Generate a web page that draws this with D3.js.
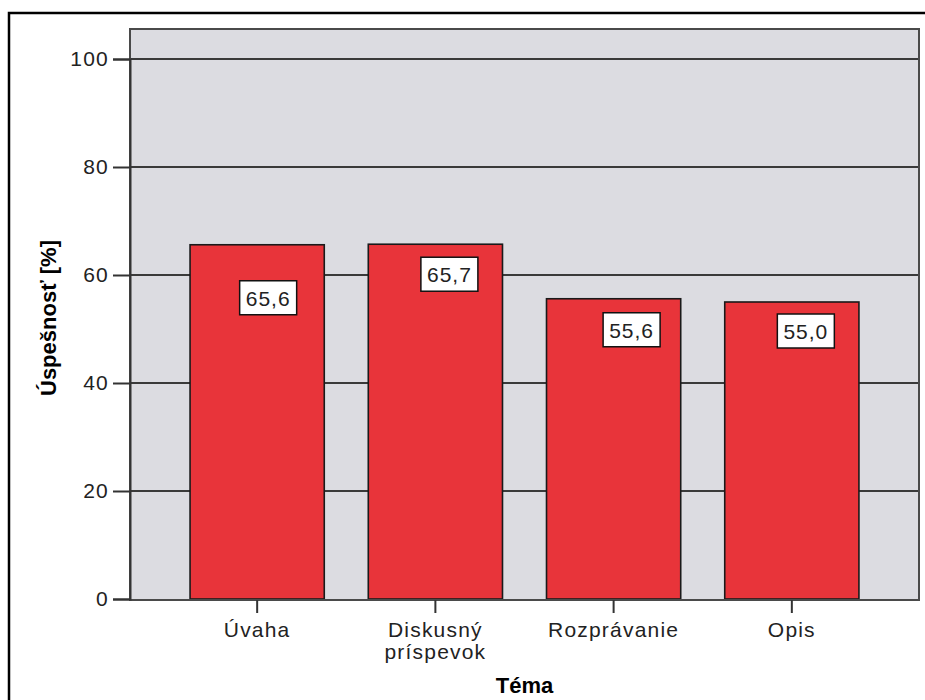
<!DOCTYPE html>
<html>
<head>
<meta charset="utf-8">
<script src="https://cdn.jsdelivr.net/npm/d3@7"></script>
<style>
  body { margin: 0; background: #fff; }
  svg text { font-family: "Liberation Sans", Arial, sans-serif; }
</style>
</head>
<body>
<svg id="chart"></svg>
<script>
// Data
const categories = ["Úvaha", "Diskusný príspevok", "Rozprávanie", "Opis"];
const categoryLines = [["Úvaha"], ["Diskusný", "príspevok"], ["Rozprávanie"], ["Opis"]];
const values = [65.6, 65.7, 55.6, 55.0];
const valueLabels = ["65,6", "65,7", "55,6", "55,0"];
const yTicks = [0, 20, 40, 60, 80, 100];

// label nudges (layout only) - SPSS shifts labels to avoid overlap
const labelNudge = [[11, 53], [14, 30], [18, 31], [14, 29]];

const width = 925, height = 700;
const plot = { left: 130, right: 919, top: 29, bottom: 600 };

const svg = d3.select("#chart")
    .attr("width", width)
    .attr("height", height);

// outer frame (right/bottom run off the picture)
svg.append("path")
    .attr("d", `M9,${height + 5} V13 H${width + 5}`)
    .attr("fill", "none")
    .attr("stroke", "#000")
    .attr("stroke-width", 2.5);

const x = d3.scaleBand()
    .domain(categories)
    .range([plot.left, plot.right])
    .paddingInner(0.247)
    .paddingOuter(0.337);

const y = d3.scaleLinear()
    .domain([0, 100])
    .range([599, 59]);

// plot background
svg.append("rect")
    .attr("x", plot.left)
    .attr("y", plot.top)
    .attr("width", plot.right - plot.left)
    .attr("height", plot.bottom - plot.top)
    .attr("fill", "#dcdce1");

// gridlines
svg.append("g")
    .selectAll("line")
    .data(yTicks.filter(d => d > 0))
    .join("line")
    .attr("x1", plot.left)
    .attr("x2", plot.right)
    .attr("y1", d => y(d))
    .attr("y2", d => y(d))
    .attr("stroke", "#3a3a3a")
    .attr("stroke-width", 1.8);

// bars
svg.append("g")
    .selectAll("rect")
    .data(values)
    .join("rect")
    .attr("x", (d, i) => x(categories[i]))
    .attr("y", d => y(d))
    .attr("width", x.bandwidth())
    .attr("height", d => y(0) - y(d))
    .attr("fill", "#e8343a")
    .attr("stroke", "#1a1a1a")
    .attr("stroke-width", 1.6);

// plot frame
svg.append("rect")
    .attr("x", plot.left)
    .attr("y", plot.top)
    .attr("width", plot.right - plot.left)
    .attr("height", plot.bottom - plot.top)
    .attr("fill", "none")
    .attr("stroke", "#4a4a4a")
    .attr("stroke-width", 2);

// y axis
const yAxis = svg.append("g")
    .attr("transform", `translate(${plot.left},0)`)
    .call(d3.axisLeft(y).tickValues(yTicks).tickSize(17).tickPadding(4));
yAxis.select(".domain").attr("stroke", "#333").attr("stroke-width", 2);
yAxis.selectAll(".tick line").attr("stroke", "#333").attr("stroke-width", 2);
yAxis.selectAll(".tick text")
    .attr("font-size", 21)
    .attr("fill", "#222")
    .style("letter-spacing", "1.2px")
    .style("font-family", '"Liberation Sans", Arial, sans-serif');

// x axis
const xAxis = svg.append("g")
    .attr("transform", `translate(0,${plot.bottom})`)
    .call(d3.axisBottom(x).tickSize(13).tickFormat(""));
xAxis.select(".domain").remove();
xAxis.selectAll(".tick line").attr("stroke", "#333").attr("stroke-width", 2);

svg.append("g")
    .selectAll("text")
    .data(categoryLines)
    .join("text")
    .attr("x", (d, i) => x(categories[i]) + x.bandwidth() / 2)
    .attr("y", 637)
    .attr("text-anchor", "middle")
    .attr("font-size", 21)
    .attr("fill", "#222")
    .style("letter-spacing", "1.2px")
    .each(function(lines) {
        const t = d3.select(this);
        lines.forEach((ln, k) => {
            t.append("tspan")
                .attr("x", t.attr("x"))
                .attr("dy", k === 0 ? 0 : 22)
                .text(ln);
        });
    });

// value labels
const labels = svg.append("g")
    .selectAll("g")
    .data(values)
    .join("g")
    .attr("transform", (d, i) =>
        `translate(${x(categories[i]) + x.bandwidth() / 2 + labelNudge[i][0]},${y(d) + labelNudge[i][1]})`);

labels.append("rect")
    .attr("x", -28.5)
    .attr("y", -17)
    .attr("width", 57)
    .attr("height", 34)
    .attr("fill", "#fff")
    .attr("stroke", "#111")
    .attr("stroke-width", 1.5);

labels.append("text")
    .attr("text-anchor", "middle")
    .attr("y", 8)
    .attr("font-size", 21)
    .attr("fill", "#222")
    .style("letter-spacing", "1px")
    .text((d, i) => valueLabels[i]);

// axis titles
svg.append("text")
    .attr("transform", "translate(56,318) rotate(-90)")
    .attr("text-anchor", "middle")
    .attr("font-size", 22)
    .attr("font-weight", "bold")
    .style("font-family", '"Liberation Sans Narrow", "Arial Narrow", "Liberation Sans", sans-serif')
    .text("Úspešnosť [%]");

svg.append("text")
    .attr("x", (plot.left + plot.right) / 2)
    .attr("y", 693)
    .attr("text-anchor", "middle")
    .attr("font-size", 22)
    .attr("font-weight", "bold")
    .style("font-family", '"Liberation Sans Narrow", "Arial Narrow", "Liberation Sans", sans-serif')
    .text("Téma");
</script>
</body>
</html>
